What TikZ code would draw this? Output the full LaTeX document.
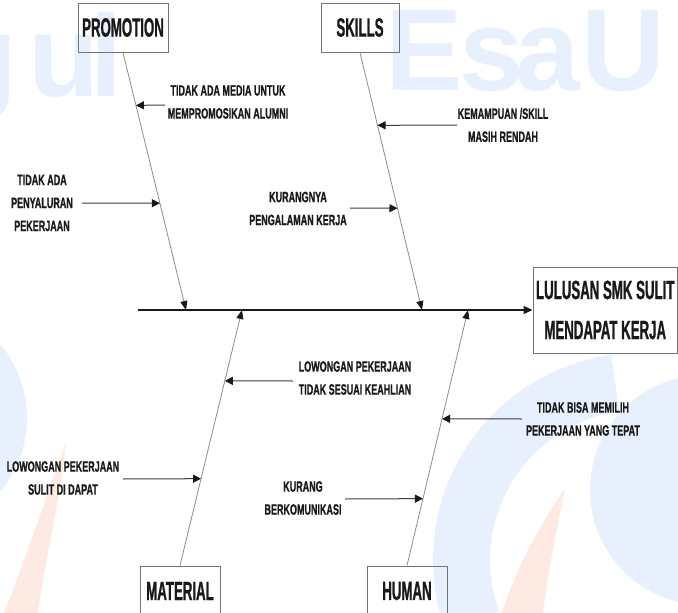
\documentclass[tikz,border=0pt]{standalone}
\usepackage{fontspec}
\setmainfont{Liberation Sans}
\newfontfamily\labelfont{Liberation Sans}[FakeStretch=0.6, FakeBold=0.8]
\newfontfamily\headfont{Liberation Sans}[FakeStretch=0.5, FakeBold=0.8]
\usetikzlibrary{arrows.meta,calc}

\definecolor{wmblue}{RGB}{232,239,253}
\definecolor{wmorange}{RGB}{253,234,226}
\definecolor{ink}{RGB}{25,25,25}
\definecolor{bonegray}{RGB}{140,140,140}
\definecolor{framegray}{RGB}{115,115,115}

\tikzset{
  headbox/.style={draw=framegray, line width=1pt, inner sep=0pt, align=center,
    text=ink, font=\headfont\bfseries\fontsize{26.5}{40}\selectfont},
  cause/.style={inner sep=0pt, align=center, text=ink,
    font=\labelfont\bfseries\fontsize{15}{23}\selectfont},
  bone/.style={draw=bonegray, line width=0.8pt, -{Triangle[length=9pt,width=7pt,color=ink]}},
  subarrow/.style={draw=ink!85, line width=1pt, -{Triangle[length=8pt,width=8pt,color=ink]}},
  spine/.style={draw=ink, line width=1.1pt, -{Triangle[length=9pt,width=8pt,color=ink]}},
  wmletter/.style={text=wmblue, inner sep=0pt, anchor=base west,
    font=\bfseries\fontsize{116}{116}\selectfont},
}

\begin{document}
\begin{tikzpicture}[x=1pt, y=-1pt]
  \useasboundingbox (0,0) rectangle (678,613);
  \fill[white] (0,0) rectangle (678,613);

  % faint watermark in the background
  \begin{scope}
    \clip (0,0) rectangle (678,613);
    \node[wmletter] (wg) at (-54,96) {g};
    \node[wmletter] (wu) at (28,96) {u};
    \node[wmletter] (wl) at (90,96) {l};
    \node[wmletter] (wE) at (385,90) {E};
    \node[wmletter] (ws) at (459,90) {s};
    \node[wmletter] (wa) at (515,90) {a};
    \node[wmletter] (wU) at (581,90) {U};
    % logo discs and swooshes
    \fill[wmblue] (-88,418) circle[radius=115];
    \fill[wmblue] (705,490) circle[radius=115];
    \fill[wmblue] ($(640,560)+(160:207)$) arc[start angle=160, end angle=262, radius=207]
      -- ($(640,560)+(262:150)$) arc[start angle=262, end angle=160, radius=150] -- cycle;
    \fill[wmorange] (66,443) .. controls (45,500) and (25,560) .. (4,613)
      -- (38,613) .. controls (45,560) and (60,500) .. cycle;
    \fill[wmorange] (565,488) .. controls (540,525) and (515,570) .. (502,613)
      -- (543,613) .. controls (548,570) and (558,525) .. cycle;
  \end{scope}

  % category boxes and effect box
  \node[headbox, minimum width=90pt, minimum height=49pt] (P) at (123,27.5) {PROMOTION};
  \node[headbox, minimum width=78pt, minimum height=49pt] (S) at (360,27.5) {SKILLS};
  \node[headbox, minimum width=80pt, minimum height=50pt] (M) at (180,591) {MATERIAL};
  \node[headbox, minimum width=80pt, minimum height=50pt] (H) at (407,591) {HUMAN};
  \node[headbox, minimum width=144.5pt, minimum height=86pt] (E) at (605.25,310)
    {LULUSAN SMK SULIT\\MENDAPAT KERJA};

  % spine
  \coordinate (tail) at (138,310);
  \draw[spine] (tail) -- (E.west);

  % bones meeting the spine
  \coordinate (p1) at (186,310);
  \coordinate (s1) at (422,310);
  \coordinate (m1) at (242,310);
  \coordinate (h1) at (468,310);
  \draw[bone] (P.south) -- (p1);
  \draw[bone] (S.south) -- (s1);
  \draw[bone] (M.north) -- (m1);
  \draw[bone] (H.north) -- (h1);

  % points on the bones where the causes arrive
  \coordinate (t1) at ($(P.south)!0.2054!(p1)$);
  \coordinate (t3) at ($(P.south)!0.5853!(p1)$);
  \coordinate (t2) at ($(S.south)!0.2829!(s1)$);
  \coordinate (t4) at ($(S.south)!0.6047!(s1)$);
  \coordinate (t5) at ($(M.north)!0.7227!(m1)$);
  \coordinate (t7) at ($(M.north)!0.3398!(m1)$);
  \coordinate (t6) at ($(H.north)!0.5742!(h1)$);
  \coordinate (t8) at ($(H.north)!0.2617!(h1)$);

  % cause labels
  \node[cause] (c1) at (228,102) {TIDAK ADA MEDIA UNTUK\\MEMPROMOSIKAN ALUMNI};
  \node[cause] (c2) at (503,125) {KEMAMPUAN /SKILL\\MASIH RENDAH};
  \node[cause] (c3) at (42,203) {TIDAK ADA\\PENYALURAN\\PEKERJAAN};
  \node[cause] (c4) at (298,208.5) {KURANGNYA\\PENGALAMAN KERJA};
  \node[cause] (c5) at (355,378) {LOWONGAN PEKERJAAN\\TIDAK SESUAI KEAHLIAN};
  \node[cause] (c6) at (583,419) {TIDAK BISA MEMILIH\\PEKERJAAN YANG TEPAT};
  \node[cause] (c7) at (63,478) {LOWONGAN PEKERJAAN\\SULIT DI DAPAT};
  \node[cause] (c8) at (303,498) {KURANG\\BERKOMUNIKASI};

  % cause arrows
  \coordinate (a1) at (165,105);
  \coordinate (a2) at (457,125);
  \coordinate (a3) at (82,203);
  \coordinate (a4) at (350,208);
  \coordinate (a5) at (293,381);
  \coordinate (a6) at (522,419);
  \coordinate (a7) at (123,479);
  \coordinate (a8) at (345,499);
  \draw[subarrow] (a1) -- (t1);
  \draw[subarrow] (a2) -- (t2);
  \draw[subarrow] (a3) -- (t3);
  \draw[subarrow] (a4) -- (t4);
  \draw[subarrow] (a5) -- (t5);
  \draw[subarrow] (a6) -- (t6);
  \draw[subarrow] (a7) -- (t7);
  \draw[subarrow] (a8) -- (t8);
\end{tikzpicture}
\end{document}
